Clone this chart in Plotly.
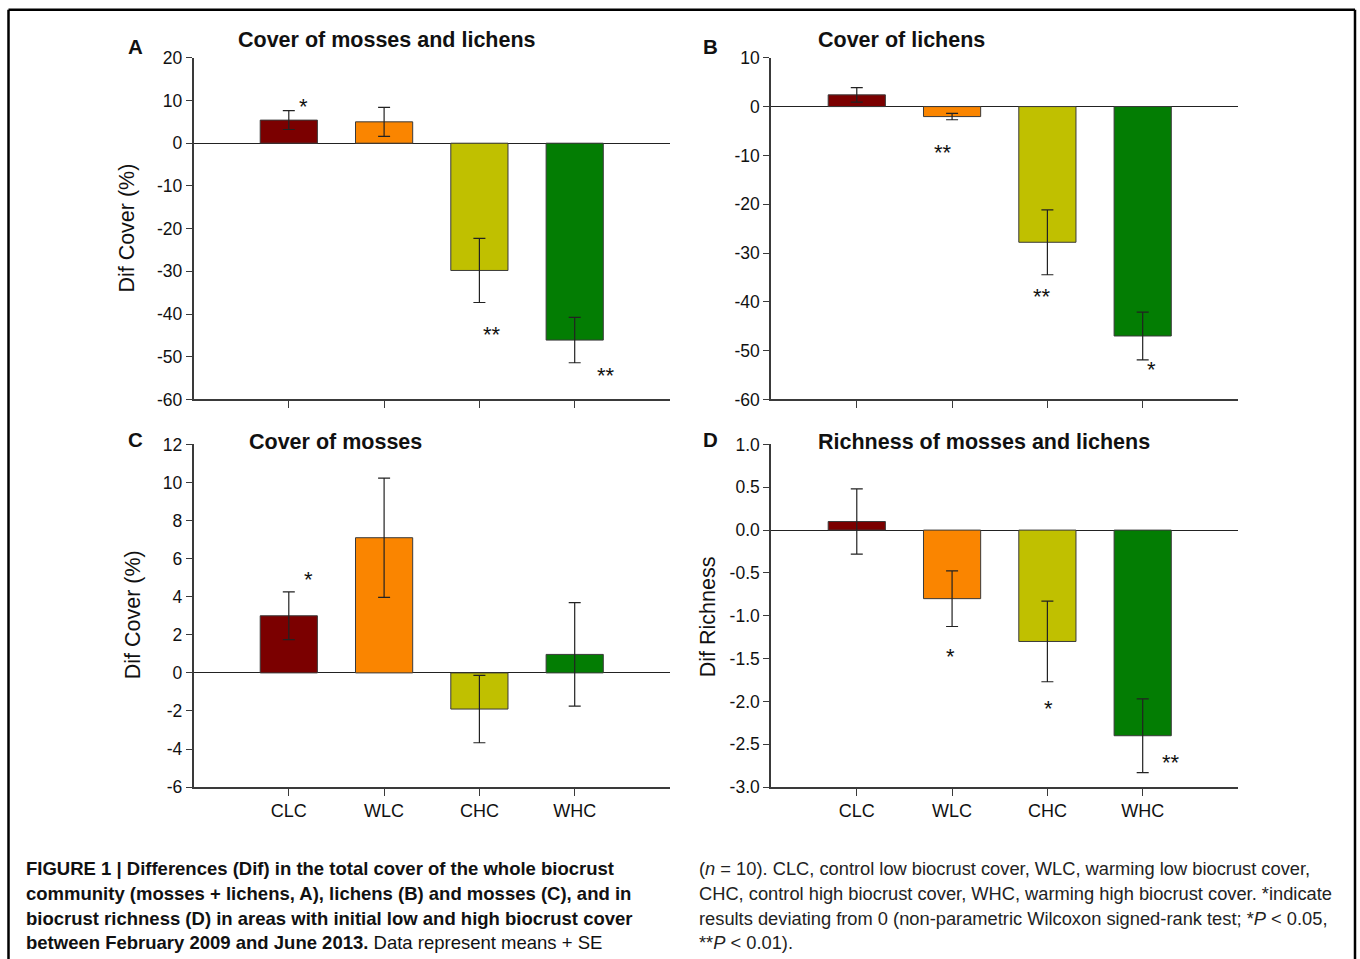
import plotly.graph_objects as go

# ---------------- data ----------------
categories = ["CLC", "WLC", "CHC", "WHC"]

a_mean = [5.4, 5.0, -29.8, -46.1]
a_se = [2.2, 3.4, 7.5, 5.3]
a_sig = ["*", "", "**", "**"]

b_mean = [2.4, -2.05, -27.8, -47.0]
b_se = [1.47, 0.65, 6.65, 4.9]
b_sig = ["", "**", "**", "*"]

c_mean = [3.0, 7.1, -1.9, 0.97]
c_se = [1.25, 3.13, 1.77, 2.72]
c_sig = ["*", "", "", ""]

d_mean = [0.1, -0.8, -1.3, -2.4]
d_se = [0.38, 0.325, 0.47, 0.43]
d_sig = ["", "*", "*", "**"]

a_ticks = [20, 10, 0, -10, -20, -30, -40, -50, -60]
b_ticks = [10, 0, -10, -20, -30, -40, -50, -60]
c_ticks = [12, 10, 8, 6, 4, 2, 0, -2, -4, -6]
d_ticks = [1.0, 0.5, 0.0, -0.5, -1.0, -1.5, -2.0, -2.5, -3.0]

titles = ["Cover of mosses and lichens", "Cover of lichens",
          "Cover of mosses", "Richness of mosses and lichens"]
letters = ["A", "B", "C", "D"]
ytitles = ["Dif Cover (%)", "", "Dif Cover (%)", "Dif Richness"]

caption_left = [
    "<b>FIGURE 1 | Differences (Dif) in the total cover of the whole biocrust</b>",
    "<b>community (mosses + lichens, A), lichens (B) and mosses (C), and in</b>",
    "<b>biocrust richness (D) in areas with initial low and high biocrust cover</b>",
    "<b>between February 2009 and June 2013.</b> Data represent means + SE",
]
caption_right = [
    "(<i>n</i> = 10). CLC, control low biocrust cover, WLC, warming low biocrust cover,",
    "CHC, control high biocrust cover, WHC, warming high biocrust cover. *indicate",
    "results deviating from 0 (non-parametric Wilcoxon signed-rank test; *<i>P</i> &lt; 0.05,",
    "**<i>P</i> &lt; 0.01).",
]

# ---------------- layout helpers ----------------
W, H = 1360, 959
FONT = "Liberation Sans, Arial, Helvetica, sans-serif"
colors = ["#7b0000", "#fa8500", "#c0c000", "#037d03"]


def px_x(p):
    return p / W


def px_y(p):
    q = (p - 9.2) / 0.98
    return 1 - q / H


panels = [
    # (means, se, sig, ticks, x pixel domain, y pixel domain, xrange, tick fmt, show x labels)
    (a_mean, a_se, a_sig, a_ticks, (193.5, 670), (57, 399), [-1, 4], "{:d}", False),
    (b_mean, b_se, b_sig, b_ticks, (771, 1238), (57, 399), [-0.9, 4], "{:d}", False),
    (c_mean, c_se, c_sig, c_ticks, (193.5, 670), (444, 787), [-1, 4], "{:d}", True),
    (d_mean, d_se, d_sig, d_ticks, (771, 1238), (444, 787), [-0.9, 4], "{:.1f}", True),
]

# star offsets (pixels) relative to the end of the error bar: (dx, dy_up)
star_offsets = [
    [(15, 9), None, (13, -27), (31, -8)],
    [None, (-9, -28), (-5, -17), (9, -5)],
    [(20, 17), None, None, None],
    [None, (-2, -25), (1, -22), (28, 15)],
]
star_size = 22

fig = go.Figure()
annotations = []
layout_axes = {}

for i, (mean, se, sig, ticks, xd, yd, xr, fmt, showx) in enumerate(panels):
    n = "" if i == 0 else str(i + 1)
    xa, ya = "x" + n, "y" + n
    fig.add_trace(go.Bar(
        x=categories, y=mean, xaxis=xa, yaxis=ya,
        width=0.6,
        marker=dict(color=colors, line=dict(color="#3a3a3a", width=1)),
        error_y=dict(type="data", array=se, visible=True, color="#222222",
                     thickness=1.2, width=6),
        showlegend=False, hoverinfo="skip",
    ))
    ticktext = [fmt.format(t) for t in ticks]
    layout_axes["xaxis" + n] = dict(
        domain=[px_x(xd[0]), px_x(xd[1])], anchor=ya,
        type="category", categoryorder="array", categoryarray=categories,
        range=xr, showgrid=False, zeroline=False,
        showline=True, linecolor="#3a3a3a", linewidth=1.5,
        ticks="outside", ticklen=7, tickwidth=1.2, tickcolor="#3a3a3a",
        showticklabels=showx,
        tickfont=dict(family=FONT, size=18, color="#111"),
        fixedrange=True,
    )
    layout_axes["yaxis" + n] = dict(
        domain=[px_y(yd[1]), px_y(yd[0])], anchor=xa,
        range=[min(ticks), max(ticks)], showgrid=False,
        zeroline=True, zerolinecolor="#222222", zerolinewidth=1.2,
        showline=True, linecolor="#3a3a3a", linewidth=1.5,
        ticks="outside", ticklen=6, tickwidth=1.2, tickcolor="#3a3a3a",
        tickvals=ticks, ticktext=ticktext,
        tickfont=dict(family=FONT, size=17.5, color="#111"),
        fixedrange=True,
    )
    # significance stars
    for j, s in enumerate(sig):
        if not s:
            continue
        dx, dy = star_offsets[i][j]
        end = mean[j] + se[j] if dy > 0 and mean[j] > 0 else mean[j] - se[j]
        annotations.append(dict(
            x=categories[j], y=end, xref=xa, yref=ya, text=s, showarrow=False,
            xanchor="center", yanchor="middle", xshift=dx, yshift=dy - 5,
            font=dict(family=FONT, size=star_size, color="#111"),
        ))

# titles, letters, y titles
title_pos = [(236, 39), (816, 39), (247, 442), (816, 442)]
letter_pos = [(135, 46), (710, 46), (135, 439), (710, 439)]
ytitle_pos = [(127, 228), None, (133, 615), (708, 617)]
for i in range(4):
    tx, ty = title_pos[i]
    annotations.append(dict(
        x=px_x(tx), y=px_y(ty), xref="paper", yref="paper", text="<b>%s</b>" % titles[i],
        showarrow=False, xanchor="left", yanchor="middle",
        font=dict(family=FONT, size=21.5, color="#111"),
    ))
    lx, ly = letter_pos[i]
    annotations.append(dict(
        x=px_x(lx), y=px_y(ly), xref="paper", yref="paper", text="<b>%s</b>" % letters[i],
        showarrow=False, xanchor="center", yanchor="middle",
        font=dict(family=FONT, size=20.5, color="#111"),
    ))
    if ytitle_pos[i]:
        yx, yy = ytitle_pos[i]
        annotations.append(dict(
            x=px_x(yx), y=px_y(yy), xref="paper", yref="paper", text=ytitles[i],
            showarrow=False, xanchor="center", yanchor="middle", textangle=-90,
            font=dict(family=FONT, size=21.5, color="#111"),
        ))

# caption
line_y = [868, 893, 918, 943]
for k, t in enumerate(caption_left):
    annotations.append(dict(
        x=px_x(24), y=px_y(line_y[k]), xref="paper", yref="paper", text=t,
        showarrow=False, xanchor="left", yanchor="middle",
        font=dict(family=FONT, size=18.5, color="#111"),
    ))
for k, t in enumerate(caption_right):
    annotations.append(dict(
        x=px_x(697), y=px_y(line_y[k]), xref="paper", yref="paper", text=t,
        showarrow=False, xanchor="left", yanchor="middle",
        font=dict(family=FONT, size=18.3, color="#222"),
    ))

# outer frame (left, top, right)
frame = dict(type="line", xref="paper", yref="paper", line=dict(color="#000", width=2.5))
shapes = [
    dict(frame, x0=px_x(8.5), x1=px_x(8.5), y0=-0.05, y1=px_y(9)),
    dict(frame, x0=px_x(8.5), x1=px_x(1355), y0=px_y(9), y1=px_y(9)),
    dict(frame, x0=px_x(1355), x1=px_x(1355), y0=-0.05, y1=px_y(9)),
]

fig.update_layout(
    width=W, height=H,
    margin=dict(l=0, r=0, t=0, b=0),
    paper_bgcolor="white", plot_bgcolor="white",
    annotations=annotations, shapes=shapes,
    font=dict(family=FONT, color="#111"),
    **layout_axes,
)

fig.write_html(
    "out.html",
    config={"displayModeBar": False},
    post_script="document.body.style.margin='0';document.body.style.overflow='hidden';",
)
